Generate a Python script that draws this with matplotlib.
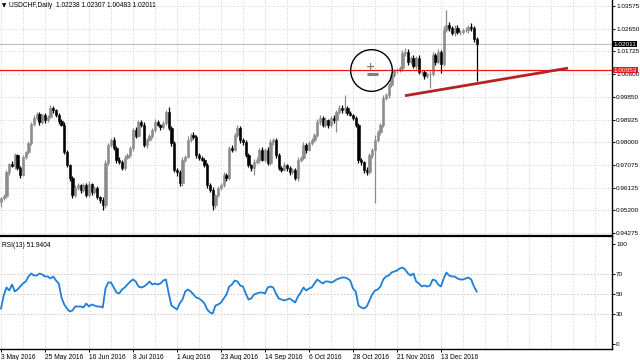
import matplotlib
matplotlib.use("Agg")
import matplotlib.pyplot as plt
import matplotlib.transforms as mtransforms
import numpy as np

plt.rcParams["font.family"] = ["Liberation Sans", "DejaVu Sans"]

# ── data ────────────────────────────────────────────────
symbol = "USDCHF,Daily"
last_ohlc = [1.02238, 1.02307, 1.00483, 1.02011]
first_open = 0.9555

closes = [
    0.9571, 0.9579, 0.9677, 0.9710, 0.9702, 0.9747, 0.9694, 0.9665, 0.9739, 0.9759,
    0.9796, 0.9874, 0.9899, 0.9915, 0.9882, 0.9911, 0.9890, 0.9903, 0.9940, 0.9931,
    0.9911, 0.9886, 0.9870, 0.9759, 0.9706, 0.9653, 0.9583, 0.9612, 0.9624, 0.9604,
    0.9624, 0.9583, 0.9628, 0.9596, 0.9612, 0.9575, 0.9563, 0.9542, 0.9714, 0.9788,
    0.9809, 0.9776, 0.9727, 0.9718, 0.9694, 0.9735, 0.9747, 0.9776, 0.9850, 0.9825,
    0.9882, 0.9870, 0.9788, 0.9809, 0.9825, 0.9850, 0.9882, 0.9870, 0.9862, 0.9878,
    0.9923, 0.9858, 0.9796, 0.9686, 0.9677, 0.9632, 0.9727, 0.9739, 0.9809, 0.9829,
    0.9821, 0.9747, 0.9735, 0.9727, 0.9706, 0.9624, 0.9604, 0.9542, 0.9583, 0.9612,
    0.9624, 0.9665, 0.9653, 0.9776, 0.9768, 0.9829, 0.9858, 0.9809, 0.9800, 0.9747,
    0.9706, 0.9694, 0.9718, 0.9727, 0.9768, 0.9727, 0.9768, 0.9714, 0.9800, 0.9809,
    0.9747, 0.9694, 0.9686, 0.9706, 0.9694, 0.9677, 0.9686, 0.9653, 0.9727, 0.9735,
    0.9788, 0.9768, 0.9796, 0.9809, 0.9829, 0.9882, 0.9899, 0.9870, 0.9890, 0.9870,
    0.9899, 0.9890, 0.9923, 0.9940, 0.9931, 0.9940, 0.9919, 0.9911, 0.9899, 0.9870,
    0.9727, 0.9718, 0.9686, 0.9677, 0.9747, 0.9768, 0.9809, 0.9841, 0.9870, 0.9981,
    0.9993, 1.0034, 1.0075, 1.0095, 1.0095, 1.0103, 1.0165, 1.0169, 1.0128, 1.0144,
    1.0112, 1.0144, 1.0087, 1.0087, 1.0071, 1.0079, 1.0079, 1.0157, 1.0128, 1.0169,
    1.0120, 1.0259, 1.0280, 1.0267, 1.0247, 1.0267, 1.0251, 1.0251, 1.0259, 1.0259,
    1.0271, 1.0267, 1.02238, 1.02011,
]

# wick lengths beyond the body, in pips
upper_wick = [
    6, 8, 10, 6, 12, 8, 6, 10, 8, 6,
    8, 10, 12, 10, 8, 6, 10, 8, 12, 8,
    6, 10, 8, 12, 8, 6, 10, 12, 8, 6,
    10, 8, 12, 6, 10, 8, 6, 10, 12, 10,
    8, 12, 6, 10, 8, 12, 10, 8, 6, 12,
    10, 8, 12, 6, 10, 8, 12, 10, 6, 8,
    10, 21, 8, 10, 6, 8, 12, 10, 14, 8,
    12, 6, 10, 8, 6, 10, 8, 12, 6, 10,
    8, 12, 10, 8, 12, 10, 14, 8, 6, 10,
    8, 6, 12, 10, 8, 12, 6, 10, 12, 8,
    6, 10, 8, 12, 6, 10, 8, 6, 12, 10,
    12, 8, 10, 6, 8, 14, 10, 8, 12, 6,
    8, 10, 8, 12, 10, 53, 8, 10, 6, 8,
    10, 8, 6, 12, 10, 8, 20, 10, 8, 12,
    10, 8, 12, 6, 10, 8, 14, 16, 12, 10,
    14, 10, 12, 8, 10, 6, 12, 14, 10, 12,
    8, 16, 61, 12, 10, 14, 12, 10, 8, 12,
    10, 15, 10, 7,
]
lower_wick = [
    21, 10, 8, 10, 6, 12, 8, 12, 6, 10,
    8, 6, 10, 8, 12, 6, 10, 8, 6, 10,
    8, 12, 6, 8, 10, 12, 14, 8, 10, 12,
    8, 10, 6, 12, 8, 10, 12, 20, 12, 8,
    10, 8, 12, 6, 10, 8, 6, 10, 12, 8,
    6, 10, 8, 12, 6, 10, 8, 6, 12, 10,
    8, 10, 12, 8, 14, 10, 12, 8, 6, 10,
    8, 12, 10, 6, 8, 12, 10, 20, 12, 8,
    10, 6, 12, 8, 10, 6, 8, 12, 10, 8,
    10, 12, 30, 8, 12, 6, 10, 8, 6, 10,
    12, 8, 10, 6, 12, 10, 8, 8, 12, 10,
    8, 12, 6, 10, 8, 10, 12, 8, 10, 12,
    8, 10, 49, 8, 12, 10, 8, 6, 10, 8,
    12, 10, 14, 10, 8, 12, 218, 10, 12, 8,
    10, 12, 8, 10, 12, 8, 10, 14, 12, 10,
    8, 12, 10, 14, 12, 10, 57, 8, 12, 10,
    37, 8, 10, 12, 8, 14, 10, 12, 8, 10,
    12, 10, 12, 153,
]

rsi = [
    35, 48, 56, 53, 59, 52, 54, 57, 60, 62,
    67, 70, 68, 68, 70, 69, 67, 67, 65, 67,
    63, 60, 46, 39, 35, 32, 33, 37, 37, 37,
    36, 40, 37, 39, 38, 37, 37, 36, 55, 61,
    61, 56, 51, 50, 54, 56, 59, 62, 64, 62,
    57, 56, 57, 59, 62, 59, 60, 59, 60, 63,
    64, 50, 38, 36, 34, 40, 44, 52, 54, 52,
    49, 46, 45, 43, 40, 34, 31, 30, 38, 39,
    41, 45, 49, 57, 59, 63, 62, 58, 57, 50,
    44, 45, 49, 50, 51, 51, 50, 56, 57, 56,
    50, 45, 44, 43, 44, 45, 43, 41, 47, 51,
    56, 53, 55, 56, 60, 64, 62, 60, 62, 62,
    61, 62, 64, 65, 66, 66, 65, 63, 55, 52,
    38, 36, 35, 37, 43, 49, 53, 54, 57, 64,
    67, 68, 71, 72, 73, 75, 76, 74, 70, 68,
    70, 62, 60, 57, 58, 57, 58, 64, 63, 59,
    57, 65, 71, 68, 67, 67, 65, 64, 64, 65,
    66, 64, 57, 51.9404,
]
rsi_period = 13

date_labels = ["3 May 2016", "25 May 2016", "16 Jun 2016", "8 Jul 2016",
               "1 Aug 2016", "23 Aug 2016", "14 Sep 2016", "6 Oct 2016",
               "28 Oct 2016", "21 Nov 2016", "13 Dec 2016"]
date_step = 16  # bars between date labels

price_ticks = [1.03575, 1.02650, 1.01725, 1.00800, 0.99850, 0.98925,
               0.98000, 0.97075, 0.96125, 0.95200, 0.94275]
rsi_ticks = [0, 30, 50, 70, 100]
rsi_levels = [30, 50, 70]

bid_price = 1.02011
red_level = 1.00953
trend_x = [146.9, 206.2]
trend_y = [0.9990, 1.0103]
mark_x, mark_y = 134.4, 1.0095

# ── colours ─────────────────────────────────────────────
C_UP = "#8c8c8c"
C_DOWN = "#000000"
C_GRID = "#c4c4c4"
C_RSI = "#1f7fd6"
C_RED = "#e8171b"
C_TREND = "#b52424"
FS = 4.6

# ── build candles ───────────────────────────────────────
n = len(closes)
x = np.arange(n)
c = np.array(closes)
o = np.array([first_open] + closes[:-1])
hi = np.maximum(o, c) + np.array(upper_wick) * 1e-4
lo = np.minimum(o, c) - np.array(lower_wick) * 1e-4
o[-1], hi[-1], lo[-1], c[-1] = last_ohlc
up = c >= o
colors = np.where(up, C_UP, C_DOWN)

fig = plt.figure(figsize=(6.4, 3.6), dpi=100)
fig.patch.set_facecolor("white")

W = 612 / 640
ax = fig.add_axes([0, 1 - 236 / 360, W, 236 / 360])
ax_r = fig.add_axes([0, 1 - 349 / 360, W, (349 - 236) / 360])

xmin, xmax = -0.36, 222.2
grid_x = np.arange(0, 224, date_step // 2)

# ── price panel ─────────────────────────────────────────
ax.set_xlim(xmin, xmax)
ax.set_ylim(0.94152, 1.03821)
for gy in price_ticks:
    ax.axhline(gy, color=C_GRID, lw=0.6, ls=(0, (1, 2)), zorder=0)
for gx in grid_x:
    ax.axvline(gx, color=C_GRID, lw=0.6, ls=(0, (1, 2)), zorder=0)

ax.vlines(x, lo, hi, colors=colors, lw=0.9, zorder=2)
body = np.abs(c - o)
body = np.maximum(body, 0.00008)
ax.bar(x, body, bottom=np.minimum(o, c), width=0.8, color=colors,
       edgecolor=colors, linewidth=0.4, zorder=3)

ax.axhline(bid_price, color="#c0c0c0", lw=0.8, zorder=1)
ax.axhline(red_level, color=C_RED, lw=0.9, zorder=4)
ax.plot(trend_x, trend_y, color=C_TREND, lw=2.0, solid_capstyle="butt", zorder=5)

# circled marker with a "+ / bar" glyph inside
ax.plot([mark_x], [mark_y], "o", ms=30, mfc="none", mec="black", mew=1.0, zorder=6)
ax.text(mark_x - 0.2, mark_y + 0.0012, "+", color="#808080", fontsize=8,
        fontweight="bold", ha="center", va="center", zorder=6,
        family=["DejaVu Sans"])
ax.plot([mark_x - 1.4, mark_x + 2.8], [mark_y - 0.0016] * 2, color="#808080",
        lw=2.2, solid_capstyle="butt", zorder=6)

ax.yaxis.tick_right()
ax.set_yticks(price_ticks)
ax.set_yticklabels([f"{v:.5f}" for v in price_ticks])
ax.tick_params(axis="y", direction="out", length=2, width=0.7, labelsize=FS, pad=1,
               colors="black")
ax.set_xticks([])
for s in ["top", "left", "bottom"]:
    ax.spines[s].set_visible(False)
ax.spines["right"].set_linewidth(1.0)

tr = mtransforms.blended_transform_factory(ax.transAxes, ax.transData)
for val, bg in [(bid_price, "black"), (red_level, C_RED)]:
    ax.text(1.003, val, f"{val:.5f}", transform=tr, color="white", fontsize=FS,
            ha="left", va="center", zorder=10, clip_on=False,
            bbox=dict(boxstyle="square,pad=0.1", fc=bg, ec="none"))

ax.text(0.004, 0.977, "▼", transform=ax.transAxes, fontsize=4, color="black",
        ha="left", va="center", family=["DejaVu Sans"])
ax.text(0.015, 0.977, f"{symbol}  " + " ".join(f"{v:.5f}" for v in last_ohlc),
        transform=ax.transAxes, fontsize=4.8, color="black", ha="left", va="center")

# ── RSI panel ───────────────────────────────────────────
ax_r.set_xlim(xmin, xmax)
ax_r.set_ylim(-5.5, 107.5)
for lv in rsi_levels:
    ax_r.axhline(lv, color=C_GRID, lw=0.6, ls=(0, (2, 2)), zorder=0)
for gx in grid_x:
    ax_r.axvline(gx, color=C_GRID, lw=0.6, ls=(0, (1, 2)), zorder=0)
ax_r.plot(x, rsi, color=C_RSI, lw=1.3, zorder=3)

ax_r.yaxis.tick_right()
ax_r.set_yticks(rsi_ticks)
ax_r.set_yticklabels([str(t) for t in rsi_ticks])
ax_r.tick_params(axis="y", direction="out", length=2, width=0.7, labelsize=FS, pad=1)
date_pos = np.arange(len(date_labels)) * date_step
ax_r.set_xticks(date_pos)
ax_r.set_xticklabels(date_labels)
for lbl in ax_r.get_xticklabels():
    lbl.set_horizontalalignment("left")
ax_r.tick_params(axis="x", direction="out", length=2, width=0.7, labelsize=4.8, pad=1.5)
ax_r.spines["left"].set_visible(False)
ax_r.spines["top"].set_linewidth(1.6)
ax_r.spines["right"].set_linewidth(1.0)
ax_r.spines["bottom"].set_linewidth(1.0)
ax_r.text(0.004, 0.92, f"RSI({rsi_period}) {rsi[-1]:.4f}", transform=ax_r.transAxes,
          fontsize=4.8, color="black", ha="left", va="center")

fig.savefig("out.png", dpi=100, facecolor="white")
